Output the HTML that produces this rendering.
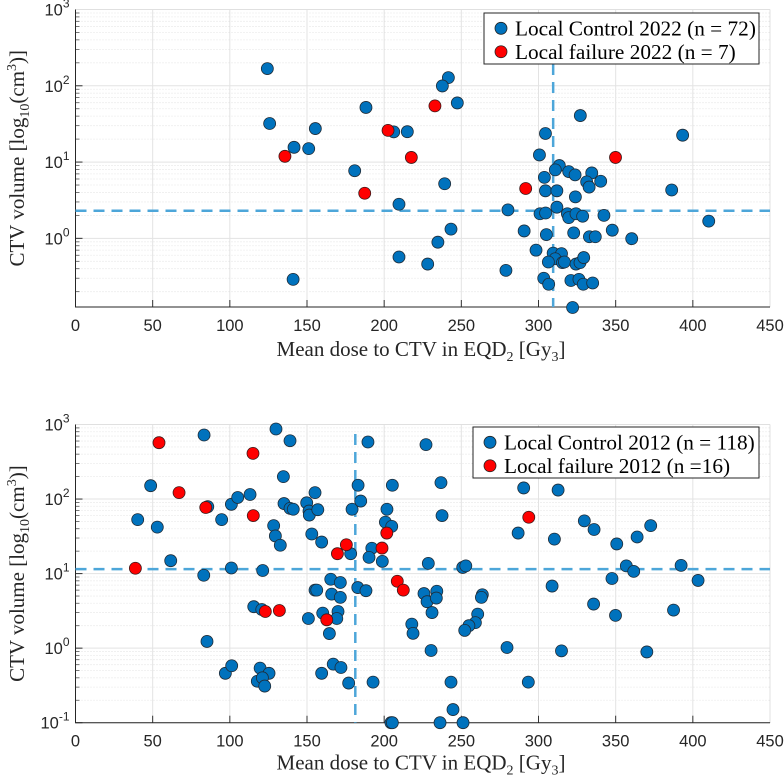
<!DOCTYPE html>
<html><head><meta charset="utf-8"><style>
body{margin:0;background:#fff;}
svg{display:block;}
.tk{font-family:"Liberation Sans",sans-serif;font-size:16.5px;fill:#262626;}
.lb{font-family:"Liberation Serif",serif;font-size:21px;fill:#262626;}
.lg{font-family:"Liberation Serif",serif;font-size:21.3px;fill:#000;}
</style></head><body>
<svg id="chart" width="784" height="782" viewBox="0 0 784 782" xmlns="http://www.w3.org/2000/svg"></svg>
<script>
// Top plot (2022) data
const xTicks=[0,50,100,150,200,250,300,350,400,450];
const topCtrlX=[124.3,125.8,141.6,151.1,155.4,188.2,206.2,215,180.9,209.6,209.6,141,228.2,241.6,237.7,247.4,327.1,304.5,393.4,300.6,313.5,310.9,319.6,323.7,334.5,303.8,331.2,340.3,332.8,239.2,304.5,311.9,323.9,386.3,280.2,311.9,301,304.6,318.7,319.6,324.3,328.6,342.4,410.3,243.3,290.7,305.1,322.8,333,336.8,347.8,360.4,234.8,298.4,309.5,314.9,310.8,306.4,315.5,316.8,324.3,326.9,329.3,278.9,303.4,306.6,321,326.2,329,335.1,322.1];
const topCtrlY=[168,32,15.6,15,27.5,52,24.9,25,7.7,2.8,0.57,0.29,0.46,128,99.6,59.6,40.7,23.7,22.5,12.4,9,7.9,7.5,6.8,7.2,6.3,5.5,5.6,4.7,5.2,4.2,4.2,3.5,4.3,2.36,2.56,2.1,2.15,2.1,1.87,2.1,1.95,2.0,1.68,1.32,1.25,1.12,1.18,1.05,1.05,1.28,0.99,0.89,0.7,0.64,0.63,0.54,0.49,0.48,0.49,0.46,0.48,0.56,0.38,0.3,0.25,0.28,0.29,0.25,0.26,0.124];
const topFailX=[135.7,202.5,217.6,187.4,232.9,349.9,291.7];
const topFailY=[11.9,26,11.5,3.9,54.5,11.5,4.5];
const topMedianX=309.5, topMedianY=2.3;
// Bottom plot (2012) data
const botCtrlX=[83.3,129.9,139,48.7,40.3,53,85.7,101,105.1,113.1,94.7,134.7,135.1,139,128.4,129.5,132.7,61.7,101,121.3,83.1,115.5,120.7,85.2,97.1,101.2,119.6,125.4,117.8,121.1,122.6,189.5,227.1,183.1,205.3,236.8,290.4,155.2,149.8,141.1,151.3,151.5,157,179.2,184.8,201.8,200.8,204.9,237.5,286.8,153.1,159.5,178.3,192,190.2,198.8,228.6,250.9,252.9,165.4,171.6,155.2,156.3,166,171.6,182.9,188.2,225.8,227.8,234.1,233.8,263.6,263,160.2,170.1,169.3,150.9,164.5,231,217.9,218.7,260.6,259.1,254.9,252.2,230.4,279.6,167,172,159.5,177,192.8,243.3,293.4,244.6,204.4,205.3,236.2,251.1,312.7,329.7,336,310.3,350.7,363.9,372.7,356.9,361.7,392.4,403.4,347.6,308.8,335.7,349.9,387.5,314.9,370.2];
const botCtrlY=[723,870,606,151,53,42,79,85,105,115,53,200,87,75,44,32,24,14.9,11.9,11,9.5,3.6,3.3,1.23,0.46,0.58,0.54,0.46,0.36,0.4,0.31,582,537,153,153,166,141,122,89,73,69,61,72,73,94,73,49,43,60,35,34,26.5,18.5,21.9,16.5,14.6,13.7,12.1,12.7,8.4,7.6,6.0,6.0,5.3,4.8,6.5,5.9,5.4,4.2,5.8,4.7,5.2,4.8,2.95,3.1,2.5,2.5,1.57,3.0,2.1,1.58,2.86,2.2,2.0,1.73,0.93,1.02,0.61,0.55,0.46,0.34,0.35,0.35,0.35,0.15,0.1,0.1,0.1,0.1,132,51,39,29,25,31,44,12.7,10.7,12.9,8.1,8.6,6.8,3.9,2.75,3.24,0.92,0.89];
const botFailX=[54.1,67.1,84.4,115,115.2,38.8,123,132.1,175.5,169.7,198.6,201.7,208.5,212.4,162.8,293.7];
const botFailY=[570,122,77,410,60,11.8,3.1,3.2,24.4,18.5,22,35,7.9,6.0,2.4,57];
const botMedianX=181.3, botMedianY=11.5;

const NS='http://www.w3.org/2000/svg';
const svg=document.getElementById('chart');
function mk(tag,attrs,parent){const e=document.createElementNS(NS,tag);for(const k in attrs)e.setAttribute(k,attrs[k]);(parent||svg).appendChild(e);return e;}

function drawPlot(o){
  const L=75.5,R=770,T=o.top,B=o.bottom,logMin=o.logMin,logMax=3;
  const xs=v=>L+(v-0)/450*(R-L);
  const ys=v=>B-(Math.log10(v)-logMin)/(logMax-logMin)*(B-T);
  const g=mk('g',{});
  
  
  for(let d=-1;d<3;d++){for(let m=2;m<=9;m++){const v=m*Math.pow(10,d);if(Math.log10(v)<logMin)continue;const y=ys(v);
    mk('line',{x1:L,x2:R,y1:y,y2:y,stroke:'#dedede','stroke-width':0.8,'stroke-dasharray':'1 2'},g);
    mk('line',{x1:L,x2:L+4,y1:y,y2:y,stroke:'#555','stroke-width':0.8},g);}}
  for(let d=-1;d<=3;d++){if(d<logMin)continue;const y=ys(Math.pow(10,d));
    const gl=mk('line',{x1:L,x2:R,y1:y,y2:y,stroke:'#e3e3e3','stroke-width':1},g);
    
    
    mk('line',{x1:L,x2:L+7,y1:y,y2:y,stroke:'#333','stroke-width':1},g);
    const t=mk('text',{x:L-6,y:y+6,'text-anchor':'end',class:'tk'},g);
    
    
    t.innerHTML='10<tspan dy="-8" font-size="12">'+d+'</tspan>';}
  xTicks.forEach(v=>{const x=xs(v);
    const gl=mk('line',{x1:x,x2:x,y1:T,y2:B,stroke:'#e3e3e3','stroke-width':1},g);
    
    
    mk('line',{x1:x,x2:x,y1:B,y2:B-7,stroke:'#333','stroke-width':1},g);
    const t=mk('text',{x:x,y:B+24,'text-anchor':'middle',class:'tk'},g);
    
    
    t.textContent=v;});
  mk('line',{x1:L,x2:R,y1:T,y2:T,stroke:'#e0e0e0','stroke-width':1},g);
  mk('line',{x1:R,x2:R,y1:T,y2:B,stroke:'#e0e0e0','stroke-width':1},g);
  const ax=mk('path',{d:`M${L} ${T}V${B}H${R}`,fill:'none',stroke:'#262626','stroke-width':1},g);
  
  
  const mh=mk('line',{x1:L,x2:R,y1:ys(o.medY),y2:ys(o.medY),stroke:'#4da6d9','stroke-width':2.5,'stroke-dasharray':'11 7'},g);
  
  
  const mv=mk('line',{x1:xs(o.medX),x2:xs(o.medX),y1:o.vTop,y2:B,stroke:'#4da6d9','stroke-width':2.5,'stroke-dasharray':'11 7'},g);
  
  
  o.cx.forEach((v,i)=>{const c=mk('circle',{cx:xs(v),cy:ys(o.cy[i]),r:6,fill:'#0072bd',stroke:'#1f2b36','stroke-width':0.8},g);
    
    });
  o.fx.forEach((v,i)=>{const c=mk('circle',{cx:xs(v),cy:ys(o.fy[i]),r:6,fill:'#ff0000',stroke:'#3a1a1a','stroke-width':0.8},g);
    
    });
  const lg=mk('g',{},g);
  
  
  mk('rect',{x:o.lgX,y:o.lgY,width:o.lgW,height:o.lgH,fill:'#fff',stroke:'#262626','stroke-width':1},lg);
  [[o.lg1,'#0072bd'],[o.lg2,'#ff0000']].forEach((e,i)=>{const yy=o.lgY+o.lgH*(i?0.76:0.3);
    const c=mk('circle',{cx:o.lgX+17,cy:yy,r:6,fill:e[1],stroke:'#222','stroke-width':0.8},lg);
    
    
    const t=mk('text',{x:o.lgX+31,y:yy+7,class:'lg'},lg);
    
    
    t.textContent=e[0];});
  const xl=mk('text',{x:421,y:B+o.xlOff,'text-anchor':'middle',class:'lb'},g);
  
  
  xl.innerHTML='Mean dose to CTV in EQD<tspan dy="5" font-size="14">2</tspan><tspan dy="-5"> [Gy</tspan><tspan dy="5" font-size="14">3</tspan><tspan dy="-5">]</tspan>';
  const cy=(T+B)/2;
  const yl=mk('text',{x:0,y:0,'text-anchor':'middle',class:'lb',transform:`translate(24 ${cy}) rotate(-90)`},g);
  
  
  yl.innerHTML='CTV volume [log<tspan dy="5" font-size="14">10</tspan><tspan dy="-5">(cm</tspan><tspan dy="-8" font-size="14">3</tspan><tspan dy="8">)]</tspan>';
}
drawPlot({name:'plot-2022',top:9.5,bottom:307,logMin:-0.9,cx:topCtrlX,cy:topCtrlY,fx:topFailX,fy:topFailY,medX:topMedianX,medY:topMedianY,vTop:64,xlOff:49,
  lgX:484,lgY:13,lgW:275,lgH:51,lg1:'Local Control 2022 (n = 72)',lg2:'Local failure 2022 (n = 7)'});
drawPlot({name:'plot-2012',top:424.5,bottom:722.7,logMin:-1,cx:botCtrlX,cy:botCtrlY,fx:botFailX,fy:botFailY,medX:botMedianX,medY:botMedianY,vTop:434,xlOff:47,
  lgX:473,lgY:427,lgW:286,lgH:51,lg1:'Local Control 2012 (n = 118)',lg2:'Local failure 2012 (n =16)'});
</script>
</body></html>
